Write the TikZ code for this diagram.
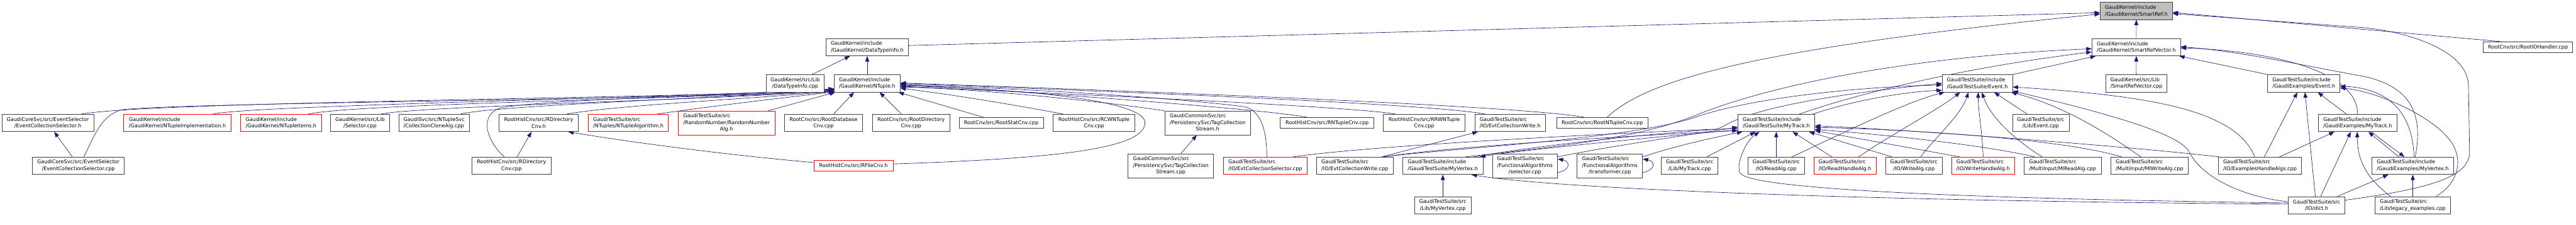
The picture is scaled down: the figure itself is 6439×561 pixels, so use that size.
\documentclass[tikz,border=0pt]{standalone}
\usepackage{fontspec}
\setmainfont{DejaVu Sans}
\usetikzlibrary{arrows.meta}
\definecolor{edgeblue}{HTML}{191970}
\definecolor{bordergray}{HTML}{404040}
\definecolor{fillgray}{HTML}{BFBFBF}
\definecolor{nodered}{HTML}{FF0000}
\newcommand{\threel}[3]{\begin{tabular}{@{}l@{}}#1\\#2\\\multicolumn{1}{@{}c@{}}{#3}\end{tabular}}
\pgfdeclarelayer{bg}
\pgfsetlayers{bg,main}
\begin{document}
\begin{tikzpicture}[x=1pt,y=1pt,
  box/.style={draw=bordergray, line width=1.1pt, fill=white, inner sep=0pt,
    font=\fontsize{12.75}{16.5}\selectfont, minimum height=43.3pt},
  tl/.style={box, align=left},
  tc/.style={box, align=center},
  rl/.style={tl, draw=nodered},
  gl/.style={tl, fill=fillgray},
  L1/.style={minimum height=26.9pt},
  L3/.style={minimum height=59.6pt},
  edge/.style={draw=edgeblue, line width=1pt, -{Triangle[length=13.5pt,width=10pt]}}]
\useasboundingbox (0,0) rectangle (6439,-561);

% ---------------- nodes ----------------
\node[tc, minimum width=229.4] (ECSh) at (119.5,-306.6) {GaudiCoreSvc/src/EventSelector\\/EventCollectionSelector.h};
\node[tc, minimum width=229.7] (ECScpp) at (195.8,-413.4) {GaudiCoreSvc/src/EventSelector\\/EventCollectionSelector.cpp};
\node[rl, minimum width=268.8] (NTImpl) at (443.6,-306.6) {GaudiKernel/include\\/GaudiKernel/NTupleImplementation.h};
\node[rl, minimum width=201.4] (NTItems) at (702.5,-306.6) {GaudiKernel/include\\/GaudiKernel/NTupleItems.h};
\node[tc, minimum width=146.4] (SelCpp) at (899.8,-306.6) {GaudiKernel/src/Lib\\/Selector.cpp};
\node[tl, minimum width=176.1] (CollClone) at (1085.2,-306.6) {GaudiSvc/src/NTupleSvc\\/CollectionCloneAlg.cpp};
\node[tc, minimum width=198.3] (RDirCnvh) at (1346.5,-306.6) {RootHistCnv/src/RDirectory\\Cnv.h};
\node[tc, minimum width=198.4] (RDirCnvcpp) at (1278.6,-413.4) {RootHistCnv/src/RDirectory\\Cnv.cpp};
\node[rl, minimum width=200.3] (NTAlg) at (1570.6,-306.6) {GaudiTestSuite/src\\/NTuples/NTupleAlgorithm.h};
\node[box, draw=nodered, L3, minimum width=241] (RandAlg) at (1816,-306.6) {\threel{GaudiTestSuite/src}{/RandomNumber/RandomNumber}{Alg.h}};
\node[tc, minimum width=145.7] (DTIcpp) at (1987.7,-208) {GaudiKernel/src/Lib\\/DataTypeInfo.cpp};
\node[tl, minimum width=206.8] (DTIh) at (2167.7,-117.6) {GaudiKernel/include\\/GaudiKernel/DataTypeInfo.h};
\node[tl, minimum width=164.8] (NTupleh) at (2167.7,-208) {GaudiKernel/include\\/GaudiKernel/NTuple.h};
\node[tc, minimum width=195.8] (RootDBCnv) at (2058.5,-306.6) {RootCnv/src/RootDatabase\\Cnv.cpp};
\node[box, draw=nodered, L1, minimum width=197.9] (RFileCnvh) at (2133.2,-413.4) {RootHistCnv/src/RFileCnv.h};
\node[tc, minimum width=193.5] (RootDirCnv) at (2277.3,-306.6) {RootCnv/src/RootDirectory\\Cnv.cpp};
\node[box, L1, minimum width=210.4] (RootStatCnv) at (2502.6,-306.6) {RootCnv/src/RootStatCnv.cpp};
\node[tc, minimum width=204.4] (RCWNT) at (2734.5,-306.6) {RootHistCnv/src/RCWNTuple\\Cnv.cpp};
\node[box, L3, minimum width=214.2] (TagCollh) at (3018.5,-306.6) {\threel{GaudiCommonSvc/src}{/PersistencySvc/TagCollection}{Stream.h}};
\node[box, L3, minimum width=214.2] (TagCollcpp) at (2926.6,-413.4) {\threel{GaudiCommonSvc/src}{/PersistencySvc/TagCollection}{Stream.cpp}};
\node[rl, minimum width=208.6] (EvtCollSel) at (3162.7,-413.4) {GaudiTestSuite/src\\/IO/EvtCollectionSelector.cpp};
\node[box, L1, minimum width=233.7] (RNTupleCnv) at (3317.2,-306.6) {RootHistCnv/src/RNTupleCnv.cpp};
\node[tc, minimum width=204.6] (RRWNT) at (3560,-306.6) {RootHistCnv/src/RRWNTuple\\Cnv.cpp};
\node[tl, minimum width=176.1] (EvtCollWriteh) at (3774.5,-306.6) {GaudiTestSuite/src\\/IO/EvtCollectionWrite.h};
\node[tl, minimum width=191.5] (EvtCollWritecpp) at (3386.5,-413.4) {GaudiTestSuite/src\\/IO/EvtCollectionWrite.cpp};
\node[tl, minimum width=200.4] (TSMyVertex) at (3606.5,-413.4) {GaudiTestSuite/include\\/GaudiTestSuite/MyVertex.h};
\node[tc, minimum width=141.8] (MyVertexcpp) at (3606.5,-512.2) {GaudiTestSuite/src\\/Lib/MyVertex.cpp};
\node[box, L3, minimum width=163.1] (selector) at (3811.7,-413.4) {\threel{GaudiTestSuite/src}{/FunctionalAlgorithms}{/selector.cpp}};
\node[box, L1, minimum width=228.6] (RootNTupleCnv) at (4005.1,-306.6) {RootCnv/src/RootNTupleCnv.cpp};
\node[box, L3, minimum width=163.6] (transformer) at (4023.9,-413.4) {\threel{GaudiTestSuite/src}{/FunctionalAlgorithms}{/transformer.cpp}};
\node[tc, minimum width=141.4] (MyTrackcpp) at (4223.5,-413.4) {GaudiTestSuite/src\\/Lib/MyTrack.cpp};
\node[tl, minimum width=192.1] (TSMyTrack) at (4439.9,-306.6) {GaudiTestSuite/include\\/GaudiTestSuite/MyTrack.h};
\node[tc, minimum width=141.9] (ReadAlg) at (4439.9,-413.4) {GaudiTestSuite/src\\/IO/ReadAlg.cpp};
\node[rl, minimum width=155.6] (ReadHandleAlgh) at (4611.7,-413.4) {GaudiTestSuite/src\\/IO/ReadHandleAlg.h};
\node[tc, minimum width=141.3] (WriteAlg) at (4784,-413.4) {GaudiTestSuite/src\\/IO/WriteAlg.cpp};
\node[gl, minimum width=180.6] (SmartRef) at (5339.9,-27) {GaudiKernel/include\\/GaudiKernel/SmartRef.h};
\node[tl, minimum width=221.6] (SRVh) at (5339.8,-117.6) {GaudiKernel/include\\/GaudiKernel/SmartRefVector.h};
\node[tl, minimum width=153.7] (SRVcpp) at (5340,-208) {GaudiKernel/src/Lib\\/SmartRefVector.cpp};
\node[tl, minimum width=175.7] (TSEvent) at (4942.5,-208) {GaudiTestSuite/include\\/GaudiTestSuite/Event.h};
\node[tc, minimum width=141.5] (EventCpp) at (5101,-306.6) {GaudiTestSuite/src\\/Lib/Event.cpp};
\node[rl, minimum width=157.4] (WriteHandleAlgh) at (4957.1,-413.4) {GaudiTestSuite/src\\/IO/WriteHandleAlg.h};
\node[tl, minimum width=192.8] (MIReadAlg) at (5155.6,-413.4) {GaudiTestSuite/src\\/MultiInput/MIReadAlg.cpp};
\node[tl, minimum width=194.4] (MIWriteAlg) at (5373,-413.4) {GaudiTestSuite/src\\/MultiInput/MIWriteAlg.cpp};
\node[tl, minimum width=180.4] (GEEvent) at (5758.4,-208) {GaudiTestSuite/include\\/GaudiExamples/Event.h};
\node[tl, minimum width=196.8] (GEMyTrack) at (5893,-306.6) {GaudiTestSuite/include\\/GaudiExamples/MyTrack.h};
\node[tl, minimum width=208.3] (ExHandleAlgs) at (5649,-413.4) {GaudiTestSuite/src\\/IO/ExamplesHandleAlgs.cpp};
\node[tc, minimum width=141.9] (dict) at (5790.5,-512.2) {GaudiTestSuite/src\\/IO/dict.h};
\node[box, L1, minimum width=223.1] (RootIOHandler) at (6318.9,-117.6) {RootCnv/src/RootIOHandler.cpp};
\node[tl, minimum width=204.6] (GEMyVertex) at (6031,-413.4) {GaudiTestSuite/include\\/GaudiExamples/MyVertex.h};
\node[tl, minimum width=188.7] (legacy) at (6031,-512.2) {GaudiTestSuite/src\\/Lib/legacy\_examples.cpp};

% ---------------- edges ----------------
\begin{pgfonlayer}{bg}
\fill[white] (0,0) rectangle (6439,-561);
% into SmartRef.h
\draw[edge] (SRVh.north) -- (SmartRef.south);
\draw[edge] ([yshift=4]DTIh.east) -- ([yshift=-4.7]SmartRef.west);
\draw[edge] ([xshift=12]RootNTupleCnv.north) .. controls (4120,-195) and (4400,-120) .. ([yshift=-8]SmartRef.west);
\draw[edge] ([xshift=-68]RootIOHandler.north) -- ([yshift=-4]SmartRef.east);
\draw[edge] ([yshift=13]dict.east) .. controls (6080,-470) and (6172,-440) .. (6173,-380) -- (6170,-210) .. controls (6165,-120) and (6000,-75) .. (5896,-68) -- ([yshift=-7]SmartRef.east);
% into SmartRefVector.h
\draw[edge] (SRVcpp.north) -- (SRVh.south);
\draw[edge] (TSEvent.north east) -- ([xshift=10]SRVh.south west);
\draw[edge] (GEEvent.north west) -- ([xshift=-4]SRVh.south east);
\draw[edge] (GEMyTrack.north) .. controls (5893,-170) and (5650,-125) .. ([yshift=-2]SRVh.east);
\draw[edge] ([xshift=6]GEMyVertex.north) .. controls (6055,-300) and (6040,-215) .. (5900,-189) .. controls (5750,-162) and (5600,-128) .. ([yshift=1]SRVh.east);
\draw[edge] ([xshift=58]TSMyTrack.north) .. controls (4650,-232) and (4900,-170) .. ([yshift=-12]SRVh.west);
\draw[edge] ([xshift=57]TSMyVertex.north) .. controls (3900,-365) and (4100,-345) .. (4250,-283) .. controls (4450,-205) and (4800,-140) .. ([yshift=-4]SRVh.west);
% into DataTypeInfo.h
\draw[edge] ([xshift=42]DTIcpp.north) -- ([xshift=-43]DTIh.south);
\draw[edge] (NTupleh.north) -- (DTIh.south);
% into NTuple.h from the left
\draw[edge] ([xshift=84]ECSh.north) .. controls (400,-252) and (1700,-246) .. ([yshift=7]NTupleh.south west);
\draw[edge] ([xshift=14]ECScpp.north) .. controls (235,-340) and (255,-282) .. (310,-273) .. controls (500,-255) and (1700,-249) .. ([yshift=5]NTupleh.south west);
\draw[edge] ([xshift=89]NTImpl.north) .. controls (640,-262) and (1700,-244) .. ([yshift=8]NTupleh.south west);
\draw[edge] ([xshift=68]NTItems.north) .. controls (900,-258) and (1750,-246) .. ([yshift=4]NTupleh.south west);
\draw[edge] ([xshift=53]SelCpp.north) .. controls (1050,-265) and (1750,-250) .. ([yshift=3]NTupleh.south west);
\draw[edge] ([xshift=66]CollClone.north) .. controls (1250,-262) and (1800,-245) .. ([yshift=6]NTupleh.south west);
\draw[edge] ([xshift=70]RDirCnvh.north) .. controls (1550,-262) and (1850,-248) .. ([yshift=2]NTupleh.south west);
\draw[edge] ([xshift=-18]RDirCnvcpp.north) .. controls (1215,-350) and (1195,-285) .. (1255,-268) .. controls (1400,-246) and (1800,-240) .. ([yshift=9]NTupleh.south west);
\draw[edge] ([xshift=72]NTAlg.north) .. controls (1800,-262) and (1950,-245) .. ([yshift=1]NTupleh.south west);
\draw[edge] ([xshift=104]RandAlg.north) -- ([xshift=3]NTupleh.south west);
% into NTuple.h from below
\draw[edge] ([xshift=25]RootDBCnv.north) -- ([xshift=-33]NTupleh.south);
\draw[edge] ([xshift=-24]RootDirCnv.north) -- ([xshift=31]NTupleh.south);
\draw[edge] ([xshift=-44]RootStatCnv.north) -- ([xshift=78]NTupleh.south);
% into NTuple.h from the right
\draw[edge] ([xshift=-77]RCWNT.north) .. controls (2500,-255) and (2350,-232) .. ([yshift=-12]NTupleh.east);
\draw[edge] (TagCollh.north west) .. controls (2750,-252) and (2450,-222) .. ([yshift=-9]NTupleh.east);
\draw[edge] ([yshift=4.4]RFileCnvh.east) .. controls (2650,-395) and (2862,-370) .. (2862,-306) .. controls (2862,-260) and (2650,-225) .. ([yshift=-6]NTupleh.east);
\draw[edge] ([xshift=4]EvtCollSel.north) .. controls (3166,-320) and (3150,-275) .. (3110,-266) .. controls (2900,-240) and (2500,-218) .. ([yshift=-4]NTupleh.east);
\draw[edge] ([xshift=-50]RNTupleCnv.north) .. controls (3150,-270) and (2500,-225) .. ([yshift=-2]NTupleh.east);
\draw[edge] ([xshift=-72]RRWNT.north) .. controls (3350,-262) and (2500,-228) .. ([yshift=-7]NTupleh.east);
\draw[edge] ([xshift=-63]EvtCollWriteh.north) .. controls (3550,-255) and (2600,-222) .. (NTupleh.east);
\draw[edge] ([xshift=-45]RootNTupleCnv.north) .. controls (3800,-262) and (2700,-222) .. ([yshift=1]NTupleh.east);
% small local edges
\draw[edge] ([xshift=-15]ECScpp.north) -- ([xshift=16]ECSh.south);
\draw[edge] ([xshift=14]RDirCnvcpp.north) -- ([xshift=-18]RDirCnvh.south);
\draw[edge] ([yshift=8]RFileCnvh.west) .. controls (1800,-385) and (1560,-352) .. ([xshift=-26]RDirCnvh.south east);
\draw[edge] ([xshift=25]TagCollcpp.north) -- ([xshift=-27]TagCollh.south);
\draw[edge] ([xshift=67]EvtCollWritecpp.north) -- ([xshift=8]EvtCollWriteh.south west);
% into GaudiTestSuite/MyVertex.h
\draw[edge] (MyVertexcpp.north) -- (TSMyVertex.south);
\draw[edge] ([yshift=5]TSMyTrack.south west) .. controls (4100,-345) and (3800,-375) .. ([xshift=-8]TSMyVertex.north east);
\draw[edge] ([yshift=3]dict.west) .. controls (4500,-500) and (3850,-465) .. ([xshift=-29]TSMyVertex.south east);
% into GaudiTestSuite/MyTrack.h
\draw[edge] ([xshift=-22]TSMyVertex.north east) .. controls (3850,-362) and (4150,-330) .. ([yshift=9]TSMyTrack.south west);
\draw[edge] ([yshift=6]dict.west) .. controls (5000,-497) and (4380,-475) .. (4350,-432) .. controls (4338,-415) and (4360,-355) .. ([xshift=-42]TSMyTrack.south);
\draw[edge] ([xshift=43]MyTrackcpp.north) -- ([xshift=-52]TSMyTrack.south);
\draw[edge] (ReadAlg.north) -- (TSMyTrack.south);
\draw[edge] ([xshift=-33]ReadHandleAlgh.north) -- ([xshift=41]TSMyTrack.south);
\draw[edge] ([xshift=-55]WriteAlg.north) -- ([xshift=82]TSMyTrack.south);
\draw[edge] ([xshift=20]WriteHandleAlgh.north west) -- ([yshift=3]TSMyTrack.south east);
\draw[edge] ([xshift=-70]MIReadAlg.north) .. controls (4950,-360) and (4700,-335) .. ([yshift=6]TSMyTrack.south east);
\draw[edge] ([xshift=-70]MIWriteAlg.north) .. controls (5150,-345) and (4750,-322) .. ([yshift=11]TSMyTrack.south east);
\draw[edge] ([xshift=-103]ExHandleAlgs.north) .. controls (5350,-368) and (4800,-325) .. ([yshift=15]TSMyTrack.south east);
\draw[edge] ([yshift=-8]selector.north east) .. controls (4050,-360) and (4250,-333) .. ([yshift=12]TSMyTrack.south west);
\draw[edge] ([yshift=-8]transformer.north east) .. controls (4200,-360) and (4300,-340) .. ([xshift=12]TSMyTrack.south west);
\draw[edge] ([xshift=72]EvtCollWritecpp.north) .. controls (3650,-362) and (4150,-335) .. ([yshift=3]TSMyTrack.south west);
% into GaudiTestSuite/Event.h
\draw[edge] ([xshift=92]TSMyTrack.north) .. controls (4650,-245) and (4780,-228) .. ([yshift=-17]TSEvent.west);
\draw[edge] ([xshift=70]EvtCollWritecpp.north) .. controls (3650,-368) and (4100,-345) .. (4250,-288) .. controls (4420,-235) and (4700,-215) .. ([yshift=-4]TSEvent.west);
\draw[edge] ([xshift=70]EvtCollSel.north) .. controls (3450,-360) and (4100,-330) .. (4290,-322) .. controls (4320,-318) and (4330,-260) .. (TSEvent.west);
\draw[edge] ([xshift=39]ReadAlg.north) .. controls (4580,-345) and (4760,-255) .. ([xshift=-82]TSEvent.south);
\draw[edge] ([xshift=34]ReadHandleAlgh.north) .. controls (4720,-340) and (4850,-270) .. ([xshift=-43]TSEvent.south);
\draw[edge] ([xshift=17]WriteAlg.north) .. controls (4830,-350) and (4900,-290) .. ([xshift=-22]TSEvent.south);
\draw[edge] (WriteHandleAlgh.north) .. controls (4955,-330) and (4945,-280) .. ([xshift=2]TSEvent.south);
\draw[edge] ([xshift=-51]MIReadAlg.north) .. controls (5030,-345) and (4975,-290) .. ([xshift=11]TSEvent.south);
\draw[edge] ([xshift=-34]EventCpp.north) -- ([xshift=42]TSEvent.south);
\draw[edge] ([xshift=-13]ExHandleAlgs.north) .. controls (5590,-280) and (5400,-240) .. ([yshift=-9]TSEvent.east);
\draw[edge] ([yshift=9]dict.west) .. controls (5600,-490) and (5500,-440) .. (5470,-375) .. controls (5440,-335) and (5300,-290) .. ([yshift=-19]TSEvent.east);
\draw[edge] ([xshift=-22]MIWriteAlg.north) .. controls (5250,-320) and (5150,-262) .. ([xshift=-4]TSEvent.south east);
% into GaudiExamples/Event.h
\draw[edge] ([xshift=-28]GEMyTrack.north) -- ([xshift=35]GEEvent.south);
\draw[edge] ([xshift=11]ExHandleAlgs.north) -- ([xshift=-16]GEEvent.south);
\draw[edge] ([xshift=-3]dict.north) -- ([xshift=3]GEEvent.south);
\draw[edge] ([xshift=3]GEMyVertex.north) .. controls (6030,-270) and (5960,-220) .. ([yshift=-7]GEEvent.east);
\draw[edge] ([xshift=58]legacy.north) .. controls (6140,-460) and (6165,-400) .. (6120,-345) .. controls (6075,-290) and (5950,-230) .. ([yshift=-11]GEEvent.east);
% into GaudiExamples/MyTrack.h
\draw[edge] ([xshift=-35]GEMyVertex.north) -- ([xshift=27]GEMyTrack.south);
\draw[edge] ([xshift=49]ExHandleAlgs.north) -- ([xshift=-58]GEMyTrack.south);
\draw[edge] ([xshift=10]dict.north) -- ([xshift=-17]GEMyTrack.south);
\draw[edge] ([xshift=-56]legacy.north) .. controls (5912,-440) and (5893,-400) .. ([xshift=-1]GEMyTrack.south);
% into GaudiExamples/MyVertex.h
\draw[edge] ([xshift=34]GEMyTrack.south) -- ([xshift=-21]GEMyVertex.north);
\draw[edge] ([xshift=52]dict.north) -- ([xshift=-61]GEMyVertex.south);
\draw[edge] (legacy.north) -- (GEMyVertex.south);
% self loops
\draw[edge] ([yshift=-17]selector.east) .. controls +(32,6) and +(32,-6) .. ([yshift=17]selector.east);
\draw[edge] ([yshift=-17]transformer.east) .. controls +(32,6) and +(32,-6) .. ([yshift=17]transformer.east);
\end{pgfonlayer}
\end{tikzpicture}
\end{document}
